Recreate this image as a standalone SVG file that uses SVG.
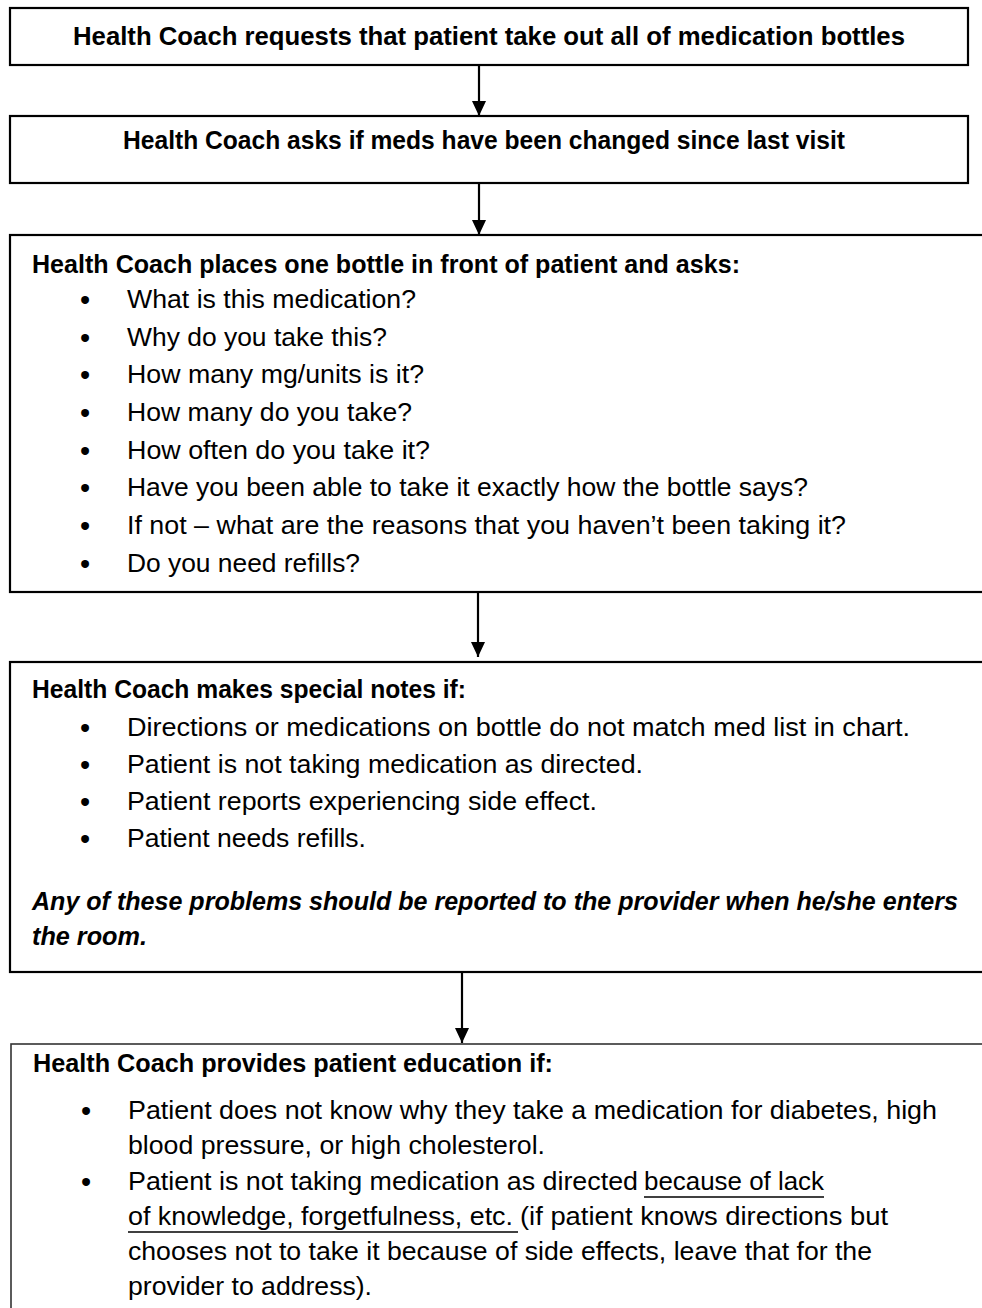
<svg xmlns="http://www.w3.org/2000/svg" width="982" height="1308" viewBox="0 0 982 1308">
<defs>
<style>
.box{fill:#fff;stroke:#000;stroke-width:2.2}
.box5{fill:#fff;stroke:#333;stroke-width:1.6}
.conn{stroke:#000;stroke-width:2.2;fill:none}
text{font-family:"Liberation Sans","Arial",sans-serif;fill:#000}
.b{font-size:25px;font-weight:bold}
.r{font-size:25px}
.bi{font-size:25px;font-weight:bold;font-style:italic}
.dot{font-size:29px}
.ul{stroke:#000;stroke-width:1.6}
</style>
<marker id="ah" markerUnits="userSpaceOnUse" markerWidth="16" markerHeight="14" refX="15" refY="7" orient="auto" viewBox="0 0 16 14">
<path d="M0,0 L15,7 L0,14 z" fill="#000"/>
</marker>
</defs>
<rect width="982" height="1308" fill="#fff"/>

<g id="connectors">
<line class="conn" x1="479" y1="65" x2="479" y2="116" marker-end="url(#ah)"/>
<line class="conn" x1="479" y1="183" x2="479" y2="235" marker-end="url(#ah)"/>
<line class="conn" x1="478" y1="592" x2="478" y2="657" marker-end="url(#ah)"/>
<line class="conn" x1="462" y1="972" x2="462" y2="1043" marker-end="url(#ah)"/>
</g>

<g id="node1">
<rect class="box" x="10" y="8" width="958" height="57"/>
<text class="b" x="73" y="45" textLength="832" lengthAdjust="spacingAndGlyphs">Health Coach requests that patient take out all of medication bottles</text>
</g>

<g id="node2">
<rect class="box" x="10" y="116" width="958" height="67"/>
<text class="b" x="123" y="149" textLength="722" lengthAdjust="spacingAndGlyphs">Health Coach asks if meds have been changed since last visit</text>
</g>

<g id="node3">
<rect class="box" x="10" y="235" width="990" height="357"/>
<text class="b" x="32" y="273" textLength="708" lengthAdjust="spacingAndGlyphs">Health Coach places one bottle in front of patient and asks:</text>
<text class="dot" x="85" y="310" text-anchor="middle">•</text>
<text class="r" x="127" y="308" textLength="289" lengthAdjust="spacingAndGlyphs">What is this medication?</text>
<text class="dot" x="85" y="348" text-anchor="middle">•</text>
<text class="r" x="127" y="346" textLength="260" lengthAdjust="spacingAndGlyphs">Why do you take this?</text>
<text class="dot" x="85" y="385" text-anchor="middle">•</text>
<text class="r" x="127" y="383" textLength="297" lengthAdjust="spacingAndGlyphs">How many mg/units is it?</text>
<text class="dot" x="85" y="423" text-anchor="middle">•</text>
<text class="r" x="127" y="421" textLength="285" lengthAdjust="spacingAndGlyphs">How many do you take?</text>
<text class="dot" x="85" y="461" text-anchor="middle">•</text>
<text class="r" x="127" y="459" textLength="303" lengthAdjust="spacingAndGlyphs">How often do you take it?</text>
<text class="dot" x="85" y="498" text-anchor="middle">•</text>
<text class="r" x="127" y="496" textLength="681" lengthAdjust="spacingAndGlyphs">Have you been able to take it exactly how the bottle says?</text>
<text class="dot" x="85" y="536" text-anchor="middle">•</text>
<text class="r" x="127" y="534" textLength="719" lengthAdjust="spacingAndGlyphs">If not – what are the reasons that you haven’t been taking it?</text>
<text class="dot" x="85" y="574" text-anchor="middle">•</text>
<text class="r" x="127" y="572" textLength="233" lengthAdjust="spacingAndGlyphs">Do you need refills?</text>
</g>

<g id="node4">
<rect class="box" x="10" y="662" width="990" height="310"/>
<text class="b" x="32" y="698" textLength="434" lengthAdjust="spacingAndGlyphs">Health Coach makes special notes if:</text>
<text class="dot" x="85" y="738" text-anchor="middle">•</text>
<text class="r" x="127" y="736" textLength="783" lengthAdjust="spacingAndGlyphs">Directions or medications on bottle do not match med list in chart.</text>
<text class="dot" x="85" y="775" text-anchor="middle">•</text>
<text class="r" x="127" y="773" textLength="516" lengthAdjust="spacingAndGlyphs">Patient is not taking medication as directed.</text>
<text class="dot" x="85" y="812" text-anchor="middle">•</text>
<text class="r" x="127" y="810" textLength="470" lengthAdjust="spacingAndGlyphs">Patient reports experiencing side effect.</text>
<text class="dot" x="85" y="849" text-anchor="middle">•</text>
<text class="r" x="127" y="847" textLength="239" lengthAdjust="spacingAndGlyphs">Patient needs refills.</text>
<text class="bi" x="32" y="910" textLength="926" lengthAdjust="spacingAndGlyphs">Any of these problems should be reported to the provider when he/she enters</text>
<text class="bi" x="32" y="945" textLength="115" lengthAdjust="spacingAndGlyphs">the room.</text>
</g>

<g id="node5">
<rect class="box5" x="11" y="1044" width="990" height="300"/>
<text class="b" x="33" y="1072" textLength="520" lengthAdjust="spacingAndGlyphs">Health Coach provides patient education if:</text>
<text class="dot" x="86" y="1121" text-anchor="middle">•</text>
<text class="r" x="128" y="1119" textLength="809" lengthAdjust="spacingAndGlyphs">Patient does not know why they take a medication for diabetes, high</text>
<text class="r" x="128" y="1154" textLength="417" lengthAdjust="spacingAndGlyphs">blood pressure, or high cholesterol.</text>
<text class="dot" x="86" y="1192" text-anchor="middle">•</text>
<text class="r" x="128" y="1190" textLength="510" lengthAdjust="spacingAndGlyphs">Patient is not taking medication as directed</text>
<text class="r" x="644" y="1190" textLength="180" lengthAdjust="spacingAndGlyphs">because of lack</text>
<line class="ul" x1="644" y1="1197" x2="824" y2="1197"/>
<text class="r" x="128" y="1225" textLength="385" lengthAdjust="spacingAndGlyphs">of knowledge, forgetfulness, etc.</text>
<line class="ul" x1="128" y1="1232" x2="518" y2="1232"/>
<text class="r" x="520" y="1225" textLength="368" lengthAdjust="spacingAndGlyphs">(if patient knows directions but</text>
<text class="r" x="128" y="1260" textLength="744" lengthAdjust="spacingAndGlyphs">chooses not to take it because of side effects, leave that for the</text>
<text class="r" x="128" y="1295" textLength="244" lengthAdjust="spacingAndGlyphs">provider to address).</text>
</g>
</svg>
